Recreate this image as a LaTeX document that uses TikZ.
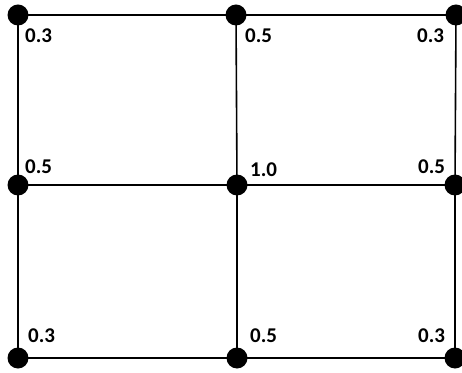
\documentclass[tikz,border=0pt]{standalone}
\usepackage{fontspec}
\setmainfont{Carlito}
\begin{document}
\begin{tikzpicture}[x=1pt,y=1pt,
  dot/.style={circle,fill=black,inner sep=0pt,minimum size=21pt},
  lbl/.style={anchor=west,inner sep=0pt,font=\fontsize{21}{24}\selectfont\bfseries},
  edge/.style={line width=1.6pt,black}]
\useasboundingbox (0,0) rectangle (462,372);
\coordinate (a1) at (18,357);
\coordinate (a2) at (236,357);
\coordinate (a3) at (456,357);
\coordinate (b1) at (18,187);
\coordinate (b2) at (237,187);
\coordinate (b3) at (455,187);
\coordinate (c1) at (18,14);
\coordinate (c2) at (237,14);
\coordinate (c3) at (455,14);
\draw[edge] (a1) -- (a2) -- (a3);
\draw[edge] (b1) -- (b2) -- (b3);
\draw[edge] (c1) -- (c2) -- (c3);
\draw[edge] (a1) -- (b1) -- (c1);
\draw[edge] (a2) -- (b2) -- (c2);
\draw[edge] (a3) -- (b3) -- (c3);
\node[dot] (da1) at (a1) {};
\node[dot] (da2) at (a2) {};
\node[dot] (da3) at (a3) {};
\node[dot] (db1) at (b1) {};
\node[dot] (db2) at (b2) {};
\node[dot] (db3) at (b3) {};
\node[dot] (dc1) at (c1) {};
\node[dot] (dc2) at (c2) {};
\node[dot] (dc3) at (c3) {};
\node[lbl] (la1) at (25,336.5) {0.3};
\node[lbl] (la2) at (245,336.5) {0.5};
\node[lbl] (la3) at (417,336.5) {0.3};
\node[lbl] (lb1) at (25,205) {0.5};
\node[lbl] (lb2) at (250,202) {1.0};
\node[lbl] (lb3) at (418,205) {0.5};
\node[lbl] (lc1) at (28,36) {0.3};
\node[lbl] (lc2) at (250,36) {0.5};
\node[lbl] (lc3) at (418,36) {0.3};
\end{tikzpicture}
\end{document}
